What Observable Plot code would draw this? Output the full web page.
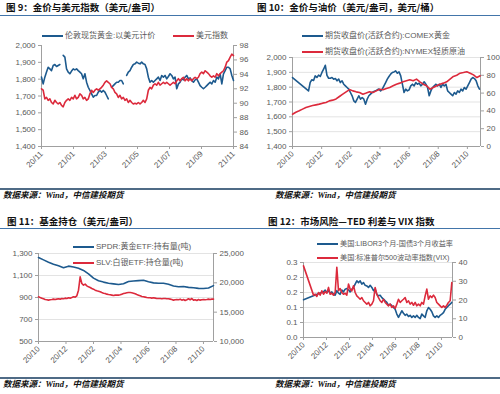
<!DOCTYPE html>
<html><head><meta charset="utf-8">
<script src="https://cdn.jsdelivr.net/npm/d3@7"></script>
<script src="https://cdn.jsdelivr.net/npm/@observablehq/plot@0.6"></script>
<style>
html,body{margin:0;padding:0;background:#fff;}
#root{position:relative;width:500px;height:394px;overflow:hidden;font-family:"Liberation Sans","Noto Sans CJK SC",sans-serif;}
.abs{position:absolute;}
.title{font-family:"Noto Sans CJK SC",sans-serif;font-weight:700;font-size:9.5px;color:#111;white-space:nowrap;line-height:10px;height:10px;}
.rule{height:1px;background:#4275aa;}
.brule{height:2px;background:#4f6b86;}
.src{font-family:"Liberation Serif","Noto Sans CJK SC",serif;font-weight:700;font-style:italic;font-size:8.5px;color:#111;white-space:nowrap;line-height:10px;height:10px;}
.leg{font-size:8px;color:#595959;white-space:nowrap;line-height:10px;height:10px;display:flex;align-items:center;font-family:"Liberation Sans","Noto Sans CJK SC",sans-serif;}
.leg i{display:inline-block;width:21px;height:2px;margin-right:2px;}
</style></head><body><div id="root"></div>
<script>
// ---------------- data ----------------
const p9Labels = ["20/11","21/01","21/03","21/05","21/07","21/09","21/11"];
const pLabels = ["20/10","20/12","21/02","21/04","21/06","21/08","21/10"];

// 图9: gold (USD) and dollar index, regular samples over the period
const p9Gold = [1812,1772,1812,1842,1871,1861,1851,1881,1887,1875,
1881,1887,null,1941,1931,1861,1842,1832,1848,1861,
1855,1861,1851,1842,1832,1802,1832,1782,1752,1733,
1713,1693,1703,1703,1723,1733,1723,1733,1723,1703,
1683,null,1752,1762,1772,1782,1782,1792,1792,1772,
null,1822,1842,1851,1871,1887,1891,1901,1895,1891,
1901,1891,1887,1861,1812,1782,1792,1782,1792,1802,
1812,1792,1822,1812,1822,1802,1816,1832,1822,1802,
1812,1743,1772,1782,1802,1796,1812,1822,1802,1808,
1792,1782,1796,1802,1782,1762,1752,1743,1752,1762,
1772,1782,1772,1792,1782,1812,1802,1832,1772,1832,
1851,1871,1871,1861,1822,1792];
const p9Dxy = [92.0,91.8,90.6,90.8,90.4,90.6,90.1,89.9,90.4,90.1,
89.9,90.1,89.7,89.5,90.1,90.4,90.6,90.4,90.8,90.6,
91.1,90.6,90.8,91.3,91.1,90.6,90.8,90.4,90.6,91.3,
91.8,91.5,91.8,92.0,91.8,92.0,92.2,92.5,92.9,93.1,
92.9,92.7,92.2,92.0,91.5,91.3,90.8,91.1,90.6,90.8,
90.4,90.6,90.1,90.4,90.1,89.9,90.0,89.9,90.1,89.9,
90.1,90.4,90.1,90.6,91.8,92.2,92.0,92.5,92.7,92.5,
92.9,92.5,92.7,92.9,92.7,92.9,92.7,92.5,92.7,92.9,
92.7,93.1,93.4,93.1,93.4,93.6,93.1,93.4,93.1,93.4,
93.1,93.4,93.6,93.4,93.6,94.1,94.3,94.1,94.5,94.3,
94.1,93.8,93.6,93.8,93.6,94.1,93.8,94.1,94.3,94.5,
95.0,95.7,95.9,96.4,96.8,96.6];
const p9Span = [0, 12];          // months from first tick
const p9XMax = 12;

// 图10: COMEX gold and NYMEX crude
const p10GoldFirst = 1865;
const p10Gold = [1775,1832,1850,1845,1876,1865,1881,1872,1899,1921,
1948,1880,1860,1860,1865,1854,1858,1843,1854,1831,
1843,1820,1809,1798,1787,1764,1742,1708,1697,1719,
1742,1719,1730,1719,1685,1719,1742,1753,1764,1771,
1775,1782,1787,1775,1787,1809,1831,1854,1872,1888,
1899,1903,1910,1894,1903,1876,1820,1764,1787,1775,
1782,1809,1820,1809,1831,1820,1827,1809,1820,1836,
1820,1798,1742,1775,1798,1809,1820,1809,1820,1798,
1820,1809,1820,1775,1764,1753,1742,1764,1753,1775,
1764,1787,1775,1798,1787,1809,1831,1854,1865,1858,
1843,1809,1787];
const p10Oil = [36.3,38.5,40.1,42.0,43.8,45.0,46.0,46.8,47.6,48.7,
49.4,51.3,52.1,53.5,56.2,58.8,61.4,64.0,62.5,61.4,
60.7,58.8,60.0,61.4,60.7,62.5,64.4,63.7,65.2,66.3,
68.2,70.0,71.2,72.7,73.8,74.9,73.8,75.7,72.7,70.0,
68.2,64.4,66.3,68.2,70.0,71.2,72.7,75.7,78.7,80.1,
82.4,83.1,83.9,82.4,80.5,77.5,79.4];
const p10GoldSpan = [1.10, 12.83];
const p10OilSpan = [0, 12.88];
const p10XMax = 12.9;

// 图11: SPDR gold ETF (t) and SLV silver ETF (t)
const p11Spdr = [1264,1242,1221,1203,1188,1170,1185,1178,1166,1146,
1115,1076,1052,1040,1030,1024,1018,1025,1046,1050,
1053,1057,1043,1033,1030,1029,1020,1005,998,1000,
992,988,983,982,986,1008];
const p11Slv = [17620,17500,17390,17280,17160,17110,17050,17110,17160,17220,
17160,17220,17280,17220,17330,17280,17390,17330,17450,17390,
17500,17620,17560,17790,18750,21020,19890,19600,19770,19490,
19320,19210,19040,18920,18750,18640,18580,18470,18350,18240,
18180,18070,18010,17960,17900,17840,17900,17900,17900,17960,
18070,18180,18240,18300,18350,18350,18300,18240,18130,18010,
17900,17790,17670,17620,17560,17500,17450,17450,17390,17450,
17390,17330,17330,17330,17280,17330,17330,17280,17280,17220,
17160,17050,17110,17160,17110,17220,17050,17160,16990,17110,
17280,17110,17330,17050,17110,16990,17160,17050,17110,17160,
17110,17160,17220,17160,17220,17220];
const p11Span = [0, 12.73];
const p11XMax = 12.73;

// 图12: TED spread and VIX
const p12TedFirst = 0.126;
const p12Ted = [0.148,0.150,0.152,0.158,0.150,0.156,0.148,0.152,0.144,0.141,
0.156,0.148,0.144,0.158,0.152,0.161,0.163,0.159,0.152,0.161,
0.167,0.178,0.189,0.183,0.189,0.178,0.183,0.174,0.172,0.167,
0.174,0.167,0.156,0.161,0.144,0.139,0.141,0.133,0.128,0.122,
0.117,0.108,0.111,0.106,0.100,0.094,0.078,0.067,0.078,0.089,
0.081,0.074,0.078,0.070,0.074,0.067,0.072,0.067,0.074,0.067,
0.063,0.078,0.072,0.067,0.089,0.100,0.094,0.086,0.072,0.067,
0.072,0.067,0.074,0.078,0.083,0.094,0.100,0.106,0.111,0.117];
const p12VixFirst = 38.2;
const p12Vix = [22.6,23.1,21.9,24.0,22.6,24.9,23.1,24.4,23.6,26.7,
23.1,23.6,22.6,24.0,37.5,24.9,26.1,24.0,23.1,23.6,
22.6,28.5,25.8,24.9,27.6,24.0,22.2,21.3,20.4,21.3,
19.6,18.7,17.8,18.7,16.9,17.8,19.6,26.7,23.0,21.3,
19.6,18.7,20.4,18.7,17.8,16.9,17.8,16.0,16.9,15.5,
17.8,20.4,18.7,19.6,20.4,21.3,18.7,19.6,17.8,18.7,
17.2,18.7,16.9,17.8,16.9,18.7,17.8,22.2,25.8,20.4,
22.2,21.3,22.6,21.3,18.7,17.8,16.9,16.0,16.9,16.0,
17.2,18.7,19.6,29.3];
const p12TedSpan = [1.45, 12.90];
const p12VixSpan = [0.87, 12.90];
const p12XMax = 12.96;
const p12LeftLabels = ["0.0","0.1","0.1","0.2","0.2","0.3"];

// ---------------- drawing ----------------
const BLUE = "#1d5a8e", RED = "#dc2a3c", AXIS = "#a0a0a0", TXT = "#595959";
const root = document.getElementById("root");

function seq(values, span) {
  const n = values.length;
  return values.map((v, i) => ({m: span[0] + (span[1] - span[0]) * i / (n - 1), v}));
}

function el(cls, left, top, html, extra) {
  const d = document.createElement("div");
  d.className = "abs " + cls;
  d.style.left = left + "px";
  d.style.top = top + "px";
  if (extra) Object.assign(d.style, extra);
  d.innerHTML = html;
  root.appendChild(d);
  return d;
}

function panel(o) {
  const toL = v => (v == null ? NaN : o.yL[0] + (v - o.yR[0]) / (o.yR[1] - o.yR[0]) * (o.yL[1] - o.yL[0]));
  const fromL = y => o.yR[0] + (y - o.yL[0]) / (o.yL[1] - o.yL[0]) * (o.yR[1] - o.yR[0]);
  const lTicks = d3.range(o.yL[0], o.yL[1] + o.yLStep / 2, o.yLStep);
  const rTicks = d3.range(o.yR[0], o.yR[1] + o.yRStep / 2, o.yRStep);
  const xTicks = d3.range(0, 13, 2);
  const chart = Plot.plot({
    width: o.width, height: o.height,
    marginLeft: o.mL, marginRight: o.mR, marginTop: o.mT, marginBottom: o.mB,
    x: {domain: [0, o.xMax]},
    y: {domain: o.yL},
    style: {background: "transparent", fontFamily: "Liberation Sans, Arial, sans-serif", fontSize: "8px", color: TXT, overflow: "visible"},
    marks: [
      o.grid ? Plot.gridY(lTicks.slice(1), {stroke: "#e3e3e3", strokeOpacity: 1}) : null,
      Plot.ruleY([o.yL[0]], {stroke: AXIS}),
      Plot.ruleX([0], {stroke: AXIS}),
      Plot.ruleX([o.xMax], {stroke: AXIS}),
      Plot.axisY(lTicks, {anchor: "left", tickSize: 3, tickPadding: 3, stroke: AXIS, fill: TXT, tickFormat: o.yLFmt, label: null}),
      Plot.axisY(rTicks.map(toL), {anchor: "right", tickSize: 3, tickPadding: 3, stroke: AXIS, fill: TXT,
        tickFormat: y => o.yRFmt(Math.round(fromL(y) / o.yRStep) * o.yRStep), label: null}),
      Plot.axisX(xTicks, {anchor: "bottom", tickSize: 3, tickPadding: 3, tickRotate: -45, stroke: AXIS, fill: TXT,
        tickFormat: d => o.xLabels[Math.round(d / 2)], label: null}),
      Plot.line(o.blue, {x: "m", y: "v", stroke: BLUE, strokeWidth: 1.6}),
      Plot.line(o.red.map(d => ({m: d.m, v: toL(d.v)})), {x: "m", y: "v", stroke: RED, strokeWidth: 1.6})
    ]
  });
  const wrap = el("", o.left, o.top, "", {width: o.width + "px", height: o.height + "px"});
  wrap.appendChild(chart);
}

function legend(left, cy, color, text, size) {
  el("leg", left, cy - 5, `<i style="background:${color}"></i>${text}`, size ? {fontSize: size} : null);
}

const fmtComma = d3.format(",");

// rules
el("rule", 0, 14.5, "", {width: "500px"});
el("rule", 0, 227.8, "", {width: "500px"});
el("brule", 0, 187.5, "", {width: "500px"});
el("brule", 0, 376.8, "", {width: "500px"});

// 图9
panel({left: 0, top: 40, width: 250, height: 135, mL: 41, mR: 17, mT: 5, mB: 29,
  xMax: p9XMax, xLabels: p9Labels,
  yL: [1400, 2000], yLStep: 100, yLFmt: fmtComma,
  yR: [84, 98], yRStep: 2, yRFmt: d => String(d),
  grid: false,
  blue: seq(p9Gold, p9Span), red: seq(p9Dxy, p9Span)});

// 图10
panel({left: 250, top: 50, width: 250, height: 125, mL: 42, mR: 20, mT: 7, mB: 29,
  xMax: p10XMax, xLabels: pLabels,
  yL: [1400, 2000], yLStep: 100, yLFmt: fmtComma,
  yR: [0, 100], yRStep: 20, yRFmt: d => String(d),
  grid: true,
  blue: [{m: 0, v: p10GoldFirst}, ...seq(p10Gold, p10GoldSpan)], red: seq(p10Oil, p10OilSpan)});

// 图11
panel({left: 0, top: 245, width: 250, height: 125, mL: 38, mR: 37, mT: 8, mB: 29,
  xMax: p11XMax, xLabels: pLabels,
  yL: [500, 1300], yLStep: 200, yLFmt: fmtComma,
  yR: [10000, 25000], yRStep: 5000, yRFmt: fmtComma,
  grid: true,
  blue: seq(p11Spdr, p11Span), red: seq(p11Slv, p11Span)});

// 图12
panel({left: 250, top: 255, width: 250, height: 115, mL: 53, mR: 48, mT: 7, mB: 33,
  xMax: p12XMax, xLabels: pLabels,
  yL: [0, 0.25], yLStep: 0.05, yLFmt: d => p12LeftLabels[Math.round(d / 0.05)],
  yR: [0, 40], yRStep: 10, yRFmt: d => String(d),
  grid: true,
  blue: [{m: 0, v: p12TedFirst}, ...seq(p12Ted, p12TedSpan)],
  red: [{m: 0, v: p12VixFirst}, ...seq(p12Vix, p12VixSpan)]});

// titles
el("title", 6, 2, "图 9：金价与美元指数（美元/盎司）");
el("title", 257, 2, "图 10：金价与油价（美元/盎司，美元/桶）");
el("title", 7, 215.5, "图 11：基金持仓（美元/盎司）");
el("title", 268, 215.5, "图 12：市场风险—TED 利差与 VIX 指数");

// legends
legend(42, 36, BLUE, "伦敦现货黄金:以美元计价");
legend(173, 36, RED, "美元指数");
legend(302, 36, BLUE, "期货收盘价(活跃合约):COMEX黄金");
legend(302, 52, RED, "期货收盘价(活跃合约):NYMEX轻质原油");
legend(73, 247, BLUE, "SPDR:黄金ETF:持有量(吨)");
legend(73, 263, RED, "SLV:白银ETF:持仓量(吨)");
legend(317, 244, BLUE, "美国:LIBOR3个月-国债3个月收益率", "7.2px");
legend(317, 258, RED, "美国:标准普尔500波动率指数(VIX)", "7.2px");

// sources
el("src", 3, 190, "数据来源：Wind，中信建投期货");
el("src", 275, 190, "数据来源：Wind，中信建投期货");
el("src", 3, 379, "数据来源：Wind，中信建投期货");
el("src", 275, 379, "数据来源：Wind，中信建投期货");
</script></body></html>
